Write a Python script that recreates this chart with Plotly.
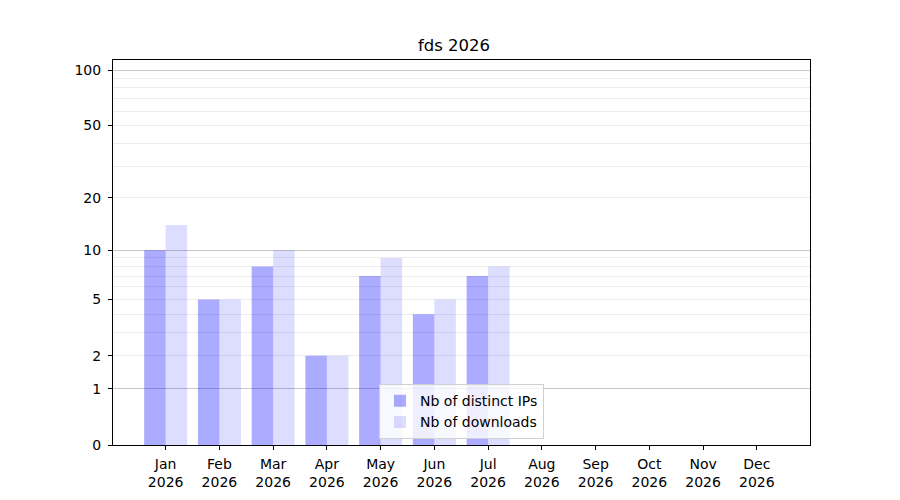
import plotly.graph_objects as go

months = ['Jan', 'Feb', 'Mar', 'Apr', 'May', 'Jun', 'Jul', 'Aug', 'Sep', 'Oct', 'Nov', 'Dec']
year = 2026
distinct_ips = [10, 5, 8, 2, 7, 4, 7, 0, 0, 0, 0, 0]
downloads = [14, 5, 10, 2, 9, 5, 8, 0, 0, 0, 0, 0]

tick_values = [0, 1, 2, 5, 10, 20, 50, 100]
minor_values = [3, 4, 6, 7, 8, 9, 30, 40, 60, 70, 80, 90]
major_grid = [1, 10, 100]

x = list(range(len(months)))
y_range = [0, 2.058]

# y axis is log10(1 + value): plot 1 + value on a log axis
fig = go.Figure()
fig.add_trace(go.Bar(
    x=x, y=[v + 1 for v in distinct_ips], name='Nb of distinct IPs',
    marker=dict(color='rgba(0,0,255,0.33)', line=dict(width=0)),
))
fig.add_trace(go.Bar(
    x=x, y=[v + 1 for v in downloads], name='Nb of downloads',
    marker=dict(color='rgba(0,0,255,0.135)', line=dict(width=0)),
))
# empty trace so the overlaid grid axis gets drawn
fig.add_trace(go.Scatter(x=[None], y=[None], yaxis='y2', showlegend=False,
                         hoverinfo='skip', mode='markers'))

# page body has an 8px margin, so the figure is a bit smaller than the window
fig.update_layout(
    width=892, height=492,
    margin=dict(l=105, r=90, t=52, b=55),
    paper_bgcolor='white', plot_bgcolor='white',
    font=dict(family='DejaVu Sans', size=14, color='black'),
    title=dict(text=f'fds {year}', x=0.5, xanchor='center', y=0.912, yanchor='bottom',
               font=dict(size=16.5)),
    barmode='group', bargap=0.2, bargroupgap=0,
    showlegend=True,
    legend=dict(x=0.5, xanchor='center', y=0.015, yanchor='bottom',
                bgcolor='rgba(255,255,255,0.8)', bordercolor='#d0d0d0', borderwidth=1,
                font=dict(size=14), tracegroupgap=0),
    xaxis=dict(
        range=[-0.98, 11.99], automargin=False,
        tickvals=x, ticktext=[f'{m}<br>{year}' for m in months],
        showgrid=False, zeroline=False,
        showline=True, linecolor='black', linewidth=1, mirror=True,
        ticks='outside', ticklen=4, tickcolor='black', ticklabelstandoff=2,
    ),
    yaxis=dict(
        type='log', range=y_range, automargin=False,
        tickvals=[v + 1 for v in tick_values], ticktext=[str(v) for v in tick_values],
        showgrid=True, gridcolor='#ececec', gridwidth=1, zeroline=False,
        showline=True, linecolor='black', linewidth=1, mirror=True,
        ticks='outside', ticklen=4, tickcolor='black', ticklabelstandoff=4,
        minor=dict(tickvals=[v + 1 for v in minor_values], showgrid=True,
                   gridcolor='#ececec', gridwidth=1, ticks=''),
    ),
    # overlaid axis only for the darker decade grid lines
    yaxis2=dict(
        type='log', range=y_range, overlaying='y', automargin=False,
        tickvals=[v + 1 for v in major_grid], showticklabels=False, ticks='',
        showgrid=True, gridcolor='#c8c8c8', gridwidth=1, zeroline=False, showline=False,
    ),
)

fig.write_html('out.html')
